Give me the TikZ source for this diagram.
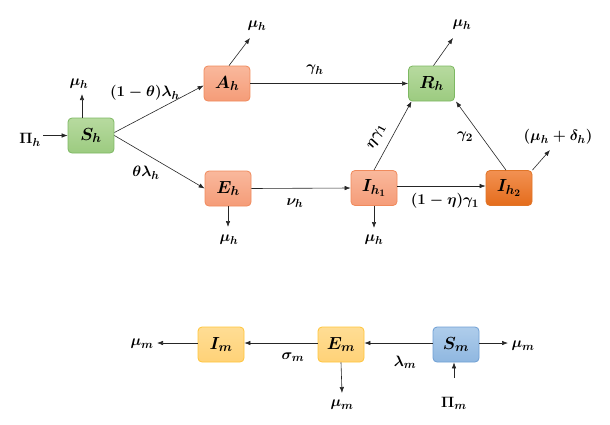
\RequirePackage{fix-cm}
\documentclass[tikz,border=0pt]{standalone}
\usetikzlibrary{arrows.meta,calc}
\DeclareMathSizes{15}{15}{11.5}{9}
\DeclareMathSizes{17.5}{17.5}{13}{10}
\definecolor{grnT}{HTML}{B7DA9F}
\definecolor{grnB}{HTML}{9CCB80}
\definecolor{grnD}{HTML}{7DB862}
\definecolor{salT}{HTML}{F9B89C}
\definecolor{salB}{HTML}{F59C78}
\definecolor{salD}{HTML}{F08A5C}
\definecolor{orT}{HTML}{F29152}
\definecolor{orB}{HTML}{E46C1C}
\definecolor{orD}{HTML}{E07528}
\definecolor{yelT}{HTML}{FFDD94}
\definecolor{yelB}{HTML}{FFD278}
\definecolor{yelD}{HTML}{FFC53A}
\definecolor{bluT}{HTML}{AFCDEB}
\definecolor{bluB}{HTML}{8FB7E0}
\definecolor{bluD}{HTML}{6E9FD4}
\tikzset{
  box/.style={draw, line width=0.8pt, rounded corners=4pt, minimum width=46pt,
    minimum height=35pt, inner sep=0pt, font=\fontsize{17.5}{19}\selectfont\boldmath},
  gbox/.style={box, draw=grnD, top color=grnT, bottom color=grnB},
  sbox/.style={box, draw=salD, top color=salT, bottom color=salB},
  obox/.style={box, draw=orD, top color=orT, bottom color=orB},
  ybox/.style={box, draw=yelD, top color=yelT, bottom color=yelB},
  bbox/.style={box, draw=bluD, top color=bluT, bottom color=bluB},
  lbl/.style={inner sep=1pt, font=\fontsize{15}{17}\selectfont\boldmath},
  arr/.style={-{Latex[length=6pt,width=4.5pt]}, line width=0.6pt, draw=black!85}
}
\begin{document}
\begin{tikzpicture}[x=1pt,y=-1pt]
\useasboundingbox (0,0) rectangle (610,424);
% human compartments
\node[gbox] (Sh)  at (91,135.5) {$S_h$};
\node[sbox] (Ah)  at (227,83.5) {$A_h$};
\node[sbox] (Eh)  at (228,188.5) {$E_h$};
\node[gbox] (Rh)  at (431.5,83.5) {$R_h$};
\node[sbox] (Ih1) at (374,188) {$I_{h_1}$};
\node[obox] (Ih2) at (509,188) {$I_{h_2}$};
% mosquito compartments
\node[ybox] (Im) at (221,344.5) {$I_m$};
\node[ybox] (Em) at (341,344.5) {$E_m$};
\node[bbox] (Sm) at (456,344.5) {$S_m$};
% free-end labels
\node[lbl] (PiH)  at (30,140) {$\Pi_h$};
\node[lbl] (muS)  at (79,84) {$\mu_h$};
\node[lbl] (muA)  at (257,26) {$\mu_h$};
\node[lbl] (muE)  at (229,240) {$\mu_h$};
\node[lbl] (muR)  at (462,25) {$\mu_h$};
\node[lbl] (muI1) at (374,240) {$\mu_h$};
\node[lbl] (muI2) at (558,137) {$(\mu_h+\delta_h)$};
\node[lbl] (muIm) at (142,344) {$\mu_m$};
\node[lbl] (muSm) at (523,346) {$\mu_m$};
\node[lbl] (muEm) at (342,405) {$\mu_m$};
\node[lbl] (PiM)  at (454,403) {$\Pi_m$};
% arrow tips
\coordinate (tS)  at (82,94);
\coordinate (tA)  at (250,38);
\coordinate (tE)  at (228,227);
\coordinate (tR)  at (453,38);
\coordinate (tI1) at (374,228);
\coordinate (tI2) at (550,150);
\coordinate (tIm) at (157,343);
\coordinate (tSm) at (508,343);
\coordinate (tEm) at (342,393);
\coordinate (sPM) at (454,378);
\coordinate (sPH) at (43,135.5);
% human arrows
\draw[arr] (sPH) -- (Sh.west);
\draw[arr] (Sh.north -| tS) -- (tS);
\draw[arr] ([yshift=3pt]Sh.east) -- ([yshift=-2pt]Ah.west);
\draw[arr] (Sh.east) -- (Eh.west);
\draw[arr] ([xshift=2pt]Ah.north) -- (tA);
\draw[arr] (Ah.east) -- (Rh.west);
\draw[arr] (Eh.south) -- (tE);
\draw[arr] (Eh.east) -- (Ih1.west);
\draw[arr] (Ih1.north) -- ([xshift=-20pt]Rh.south);
\draw[arr] (Ih1.south) -- (tI1);
\draw[arr] ([yshift=2pt]Ih1.east) -- ([yshift=2pt]Ih2.west);
\draw[arr] ([xshift=-3pt]Ih2.north) -- ([xshift=1pt]Rh.south east);
\draw[arr] (Ih2.north east) -- (tI2);
\draw[arr] ([xshift=2pt]Rh.north) -- (tR);
% mosquito arrows
\draw[arr] ([yshift=1.5pt]Sm.west) -- ([yshift=1.5pt]Em.east);
\draw[arr] ([yshift=1.5pt]Em.west) -- ([yshift=1.5pt]Im.east);
\draw[arr] ([yshift=1.5pt]Im.west) -- (tIm);
\draw[arr] ([yshift=1.5pt]Sm.east) -- (tSm);
\draw[arr] (Em.south) -- (tEm);
\draw[arr] (sPM) -- (Sm.south -| sPM);
% rate labels
\node[lbl] (l1) at (145,93) {$(1-\theta)\lambda_h$};
\node[lbl] (l2) at (146,173) {$\theta\lambda_h$};
\node[lbl] (l3) at (315,70) {$\gamma_h$};
\node[lbl] (l4) at (295,203) {$\nu_h$};
\node[lbl, rotate=62, inner sep=0pt] (l5) at (377,137) {$\eta\gamma_1$};
\node[lbl] (l6) at (465,137) {$\gamma_2$};
\node[lbl] (l7) at (445,201) {$(1-\eta)\gamma_1$};
\node[lbl] (l8) at (293,357) {$\sigma_m$};
\node[lbl] (l9) at (405,362) {$\lambda_m$};
\end{tikzpicture}
\end{document}
